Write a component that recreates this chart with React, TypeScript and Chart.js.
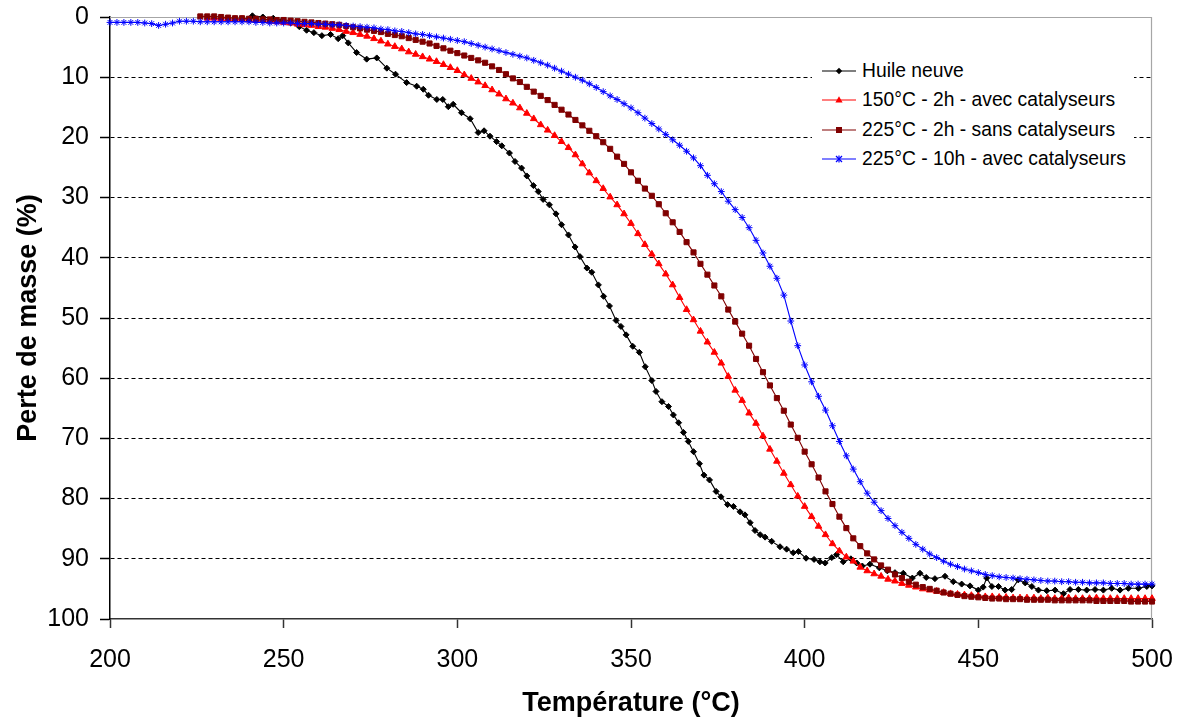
import React, { useEffect, useRef } from "react";
import { Chart, registerables } from "chart.js";

Chart.register(...registerables);

// Shared 2 °C temperature grid for the three treated oils
const gridTemps: number[] = [
  200, 202, 204, 206, 208, 210, 212, 214, 216, 218,
  220, 222, 224, 226, 228, 230, 232, 234, 236, 238,
  240, 242, 244, 246, 248, 250, 252, 254, 256, 258,
  260, 262, 264, 266, 268, 270, 272, 274, 276, 278,
  280, 282, 284, 286, 288, 290, 292, 294, 296, 298,
  300, 302, 304, 306, 308, 310, 312, 314, 316, 318,
  320, 322, 324, 326, 328, 330, 332, 334, 336, 338,
  340, 342, 344, 346, 348, 350, 352, 354, 356, 358,
  360, 362, 364, 366, 368, 370, 372, 374, 376, 378,
  380, 382, 384, 386, 388, 390, 392, 394, 396, 398,
  400, 402, 404, 406, 408, 410, 412, 414, 416, 418,
  420, 422, 424, 426, 428, 430, 432, 434, 436, 438,
  440, 442, 444, 446, 448, 450, 452, 454, 456, 458,
  460, 462, 464, 466, 468, 470, 472, 474, 476, 478,
  480, 482, 484, 486, 488, 490, 492, 494, 496, 498,
  500,
];

// Huile neuve (own temperature sampling)
const huileTemps: number[] = [
  241, 244, 247, 249.5, 252, 254.5, 256.6, 258.7, 261, 263.5,
  265.7, 267, 268.6, 271, 273.9, 276.8, 279.7, 282.2, 285.4, 288.3,
  290.2, 291.7, 294.1, 295.8, 297.4, 298.8, 301.2, 303.7, 306, 307.7,
  309.4, 311.3, 312.8, 315, 316.6, 318.5, 320, 321.9, 323.3, 324.7,
  326.5, 328.4, 330, 332, 333.9, 335.3, 337.3, 338.7, 340.6, 342.1,
  343.8, 345.7, 347.1, 348.6, 350.5, 352.4, 354.1, 356, 357.2, 358.9,
  360.8, 362.2, 363.7, 365.1, 366.5, 368, 369.7, 371, 372.6, 374.5,
  375.9, 377.8, 379.5, 381.4, 382.8, 384.3, 385.7, 387.2, 388.6, 390.5,
  392.9, 394.8, 396.7, 398.2, 400.4, 402.7, 404.4, 405.9, 407.8, 409.2,
  411.1, 413.3, 415, 416.6, 418.8, 421.5, 423.8, 426, 428.4, 431,
  433.2, 435, 437.5, 440.4, 442.8, 445.2, 447.6, 450, 451.4, 452.4,
  453.9, 455.8, 457.7, 459.6, 461.5, 463.5, 465.4, 467.3, 469.7, 472.1,
  474.5, 476.4, 478.8, 481.2, 483.6, 486, 488.4, 490.8, 493.2, 496.1,
  498.5, 500,
];
const huileValues: number[] = [
  -0.2, 0.0, 0.2, 0.6, 1.0, 1.6, 2.2, 2.6, 3.1, 2.9,
  3.6, 3.1, 4.3, 5.9, 7.0, 6.8, 8.5, 9.5, 10.9, 11.5,
  12.0, 13.0, 13.7, 13.7, 14.9, 14.5, 15.9, 16.9, 19.2, 18.9,
  19.8, 20.7, 21.4, 22.6, 24.0, 25.1, 26.4, 28.0, 29.0, 30.3,
  31.2, 32.7, 34.5, 36.2, 38.2, 39.8, 41.7, 42.4, 44.5, 46.4,
  48.0, 50.4, 51.4, 52.8, 54.7, 55.7, 58.1, 60.4, 62.2, 63.9,
  64.7, 66.1, 67.4, 69.0, 70.5, 72.2, 74.2, 76.1, 76.9, 78.8,
  79.7, 81.0, 81.3, 82.2, 82.7, 84.0, 85.3, 86.0, 86.4, 87.1,
  88.0, 88.4, 89.0, 88.8, 89.9, 90.1, 90.5, 90.7, 89.8, 89.3,
  90.5, 90.0, 90.7, 91.2, 90.9, 91.5, 92.0, 92.3, 92.4, 93.2,
  92.4, 93.1, 93.3, 92.9, 93.8, 94.2, 94.5, 95.2, 94.7, 93.2,
  94.6, 94.6, 95.2, 95.1, 93.5, 94.0, 94.6, 95.2, 95.3, 95.2,
  95.8, 95.1, 95.1, 95.2, 95.1, 95.2, 94.9, 95.2, 94.9, 94.9,
  94.6, 94.5,
];

// 150°C - 2h - avec catalyseurs (on gridTemps)
const cat150Values: (number | null)[] = [
  null, null, null, null, null, null, null, null, null, null,
  null, null, null, null, 0.2, 0.2, 0.3, 0.3, 0.4, 0.4,
  0.5, 0.5, 0.6, 0.7, 0.8, 0.9, 1.0, 1.2, 1.3, 1.4,
  1.6, 1.7, 1.9, 2.1, 2.4, 2.6, 2.9, 3.2, 3.6, 4.0,
  4.5, 4.9, 5.3, 5.8, 6.2, 6.6, 7.0, 7.4, 7.9, 8.4,
  8.9, 9.6, 10.2, 10.8, 11.4, 12.1, 12.8, 13.6, 14.3, 15.1,
  16.0, 16.9, 17.9, 18.8, 19.7, 20.7, 21.7, 22.9, 24.4, 25.9,
  27.2, 28.5, 29.9, 31.2, 32.7, 34.3, 36.0, 37.8, 39.4, 41.0,
  42.7, 44.5, 46.6, 48.6, 50.3, 52.2, 54.0, 55.7, 57.5, 59.7,
  62.0, 63.7, 65.8, 67.5, 69.6, 71.8, 73.8, 75.8, 77.7, 79.6,
  81.3, 83.0, 84.6, 86.0, 87.5, 88.7, 89.7, 90.4, 91.4, 92.0,
  92.5, 92.9, 93.4, 93.7, 94.1, 94.4, 94.7, 95.0, 95.2, 95.4,
  95.6, 95.8, 95.9, 96.0, 96.1, 96.2, 96.3, 96.3, 96.4, 96.4,
  96.5, 96.5, 96.5, 96.5, 96.6, 96.5, 96.6, 96.6, 96.5, 96.6,
  96.6, 96.6, 96.5, 96.6, 96.6, 96.6, 96.6, 96.6, 96.6, 96.6,
  96.6,
];

// 225°C - 2h - sans catalyseurs (on gridTemps)
const sans225Values: (number | null)[] = [
  null, null, null, null, null, null, null, null, null, null,
  null, null, null, -0.1, -0.1, -0.1, 0.0, 0.1, 0.2, 0.2,
  0.3, 0.3, 0.4, 0.4, 0.5, 0.5, 0.6, 0.7, 0.8, 0.9,
  1.0, 1.1, 1.2, 1.3, 1.5, 1.7, 1.9, 2.1, 2.3, 2.5,
  2.8, 3.0, 3.2, 3.5, 3.8, 4.1, 4.4, 4.8, 5.2, 5.6,
  6.0, 6.4, 6.8, 7.2, 7.6, 8.2, 8.8, 9.5, 10.2, 10.8,
  11.6, 12.4, 13.1, 13.8, 14.6, 15.4, 16.2, 17.1, 18.0, 18.9,
  19.8, 20.8, 21.9, 23.2, 24.4, 25.8, 27.2, 28.5, 29.7, 31.1,
  32.6, 34.1, 35.7, 37.4, 39.1, 41.0, 42.8, 44.6, 46.4, 48.6,
  50.6, 52.6, 54.6, 56.8, 59.0, 61.2, 63.3, 65.4, 67.7, 69.9,
  72.2, 74.3, 76.5, 78.8, 80.9, 83.0, 84.9, 86.6, 87.9, 89.1,
  90.1, 91.1, 91.8, 92.6, 93.2, 93.8, 94.3, 94.7, 95.0, 95.3,
  95.6, 95.8, 96.0, 96.2, 96.3, 96.4, 96.5, 96.6, 96.6, 96.7,
  96.7, 96.7, 96.8, 96.8, 96.8, 96.8, 96.9, 96.9, 96.9, 96.9,
  96.9, 96.9, 97.0, 97.0, 97.0, 97.0, 97.0, 97.1, 97.1, 97.1,
  97.1,
];

// 225°C - 10h - avec catalyseurs (on gridTemps)
const cat225Values: (number | null)[] = [
  0.9, 0.9, 0.9, 0.9, 0.9, 1.0, 1.1, 1.4, 1.2, 1.0,
  0.7, 0.7, 0.7, 0.8, 0.8, 0.8, 0.8, 0.8, 0.8, 0.8,
  0.8, 0.9, 0.9, 1.0, 1.0, 1.0, 1.0, 1.1, 1.1, 1.1,
  1.2, 1.2, 1.3, 1.3, 1.4, 1.5, 1.6, 1.7, 1.8, 2.0,
  2.1, 2.3, 2.4, 2.6, 2.8, 2.9, 3.1, 3.3, 3.5, 3.7,
  3.9, 4.1, 4.4, 4.7, 5.0, 5.3, 5.6, 5.9, 6.2, 6.5,
  6.8, 7.2, 7.6, 8.0, 8.5, 9.0, 9.5, 10.0, 10.5, 11.1,
  11.7, 12.4, 13.1, 13.7, 14.4, 15.1, 15.9, 16.8, 17.7, 18.6,
  19.5, 20.4, 21.3, 22.3, 23.4, 24.7, 26.3, 27.7, 29.0, 30.6,
  32.0, 33.3, 35.0, 37.1, 39.2, 41.4, 43.4, 46.2, 50.5, 54.6,
  57.8, 60.6, 63.0, 65.3, 67.9, 70.5, 72.9, 75.1, 77.2, 79.1,
  80.6, 82.0, 83.3, 84.5, 85.6, 86.6, 87.6, 88.4, 89.2, 89.8,
  90.4, 90.9, 91.3, 91.7, 92.0, 92.3, 92.6, 92.8, 93.0, 93.1,
  93.2, 93.3, 93.4, 93.5, 93.6, 93.7, 93.7, 93.8, 93.8, 93.9,
  93.9, 94.0, 94.0, 94.0, 94.1, 94.1, 94.1, 94.2, 94.2, 94.2,
  94.2,
];

const xTickValues = [200, 250, 300, 350, 400, 450, 500];
const yTickValues = [0, 10, 20, 30, 40, 50, 60, 70, 80, 90, 100];

const seriesLabels = [
  "Huile neuve",
  "150°C - 2h - avec catalyseurs",
  "225°C - 2h - sans catalyseurs",
  "225°C - 10h - avec catalyseurs",
];
const seriesColors = ["#000000", "#ff0000", "#800000", "#0000ff"];
const seriesMarkers = ["rectRot", "triangle", "rect", "star"];
const seriesRadius = [3, 3.8, 3.6, 3.4];

const FONT = "'Liberation Sans', Arial, sans-serif";

function zip(ts: number[], vs: (number | null)[]) {
  const out: { x: number; y: number }[] = [];
  ts.forEach((t, i) => {
    const v = vs[i];
    if (v !== null && v !== undefined) out.push({ x: t, y: v });
  });
  return out;
}

const framePlugin = {
  id: "frame",
  beforeDatasetsDraw(chart: any) {
    const { ctx, chartArea } = chart;
    const { left, top, right, bottom } = chartArea;
    ctx.save();
    ctx.strokeStyle = "#a6a6a6";
    ctx.lineWidth = 1.2;
    ctx.beginPath();
    ctx.moveTo(left, top + 0.5);
    ctx.lineTo(right - 0.5, top + 0.5);
    ctx.lineTo(right - 0.5, bottom);
    ctx.stroke();
    ctx.restore();
  },
};

function Marker({ kind, color }: { kind: string; color: string }) {
  const cx = 17;
  const cy = 6;
  let shape: React.ReactNode = null;
  if (kind === "rectRot") {
    shape = <polygon points={`${cx},${cy - 3.2} ${cx + 3.2},${cy} ${cx},${cy + 3.2} ${cx - 3.2},${cy}`} fill={color} />;
  } else if (kind === "triangle") {
    shape = <polygon points={`${cx},${cy - 3.8} ${cx + 3.6},${cy + 2.6} ${cx - 3.6},${cy + 2.6}`} fill={color} />;
  } else if (kind === "rect") {
    shape = <rect x={cx - 3} y={cy - 3} width={6} height={6} fill={color} />;
  } else {
    shape = (
      <g stroke={color} strokeWidth={1.2}>
        <line x1={cx - 3} y1={cy - 3} x2={cx + 3} y2={cy + 3} />
        <line x1={cx - 3} y1={cy + 3} x2={cx + 3} y2={cy - 3} />
        <line x1={cx} y1={cy - 3.5} x2={cx} y2={cy + 3.5} />
      </g>
    );
  }
  return (
    <svg width={34} height={12} style={{ display: "block" }}>
      <line x1={0} y1={cy} x2={34} y2={cy} stroke={color} strokeWidth={1.2} />
      {shape}
    </svg>
  );
}

export default function App() {
  const canvasRef = useRef<HTMLCanvasElement | null>(null);

  useEffect(() => {
    document.body.style.margin = "0";
    const canvas = canvasRef.current;
    if (!canvas) return;

    const seriesData = [
      zip(huileTemps, huileValues),
      zip(gridTemps, cat150Values),
      zip(gridTemps, sans225Values),
      zip(gridTemps, cat225Values),
    ];

    const datasets = seriesData.map((d, i) => ({
      label: seriesLabels[i],
      data: d,
      borderColor: seriesColors[i],
      backgroundColor: seriesColors[i],
      pointBackgroundColor: seriesColors[i],
      pointBorderColor: seriesColors[i],
      pointStyle: seriesMarkers[i],
      pointRadius: seriesRadius[i],
      pointBorderWidth: 1,
      borderWidth: 1.1,
      tension: 0,
      fill: false,
      clip: false,
      order: 3 - i,
    }));

    const chart = new Chart(canvas, {
      type: "line",
      data: { datasets: datasets as any },
      options: {
        responsive: false,
        animation: false,
        devicePixelRatio: 1,
        layout: { padding: { left: 8, top: 17, right: 29, bottom: 0 } },
        plugins: {
          legend: { display: false },
          tooltip: { enabled: false },
        },
        scales: {
          x: {
            type: "linear",
            min: 200,
            max: 500,
            afterBuildTicks: (s: any) => {
              s.ticks = xTickValues.map((v) => ({ value: v }));
            },
            ticks: {
              font: { family: FONT, size: 25 },
              color: "#000",
              padding: 17,
              maxRotation: 0,
              autoSkip: false,
            },
            grid: {
              drawOnChartArea: false,
              drawTicks: true,
              tickLength: 9,
              tickColor: "#333",
              tickWidth: 1.5,
            },
            border: { display: true, color: "#333", width: 1.5 },
            title: {
              display: true,
              text: "Température (°C)",
              font: { family: FONT, size: 27, weight: "bold" },
              color: "#000",
              padding: { top: 0, bottom: 0 },
            },
            afterFit: (s: any) => {
              s.height = 101;
              s.paddingLeft = 0;
              s.paddingRight = 0;
            },
          },
          y: {
            type: "linear",
            reverse: true,
            min: 0,
            max: 100,
            afterBuildTicks: (s: any) => {
              s.ticks = yTickValues.map((v) => ({ value: v }));
            },
            ticks: {
              font: { family: FONT, size: 25 },
              color: "#000",
              padding: 11,
              autoSkip: false,
            },
            grid: {
              color: (c: any) =>
                c.tick && (c.tick.value === 0 || c.tick.value === 100) ? "rgba(0,0,0,0)" : "#000",
              lineWidth: 1,
              drawTicks: true,
              tickLength: 10,
              tickColor: "#000",
              tickWidth: 1.5,
              tickBorderDash: [],
            },
            border: { display: true, color: "#000", width: 1.5, dash: [4, 3] },
            title: {
              display: true,
              text: "Perte de masse (%)",
              font: { family: FONT, size: 27, weight: "bold" },
              color: "#000",
              padding: { top: 4, bottom: 0 },
            },
            afterFit: (s: any) => {
              s.width = 102;
              s.paddingTop = 0;
              s.paddingBottom = 0;
            },
          },
        },
      } as any,
      plugins: [framePlugin],
    });

    return () => chart.destroy();
  }, []);

  const rowCenters = [70.5, 100, 129.5, 158.5];

  return (
    <div style={{ position: "relative", width: 1181, height: 720, background: "#fff" }}>
      <canvas ref={canvasRef} width={1181} height={720} style={{ display: "block" }} />
      <div
        style={{
          position: "absolute",
          left: 812,
          top: 54,
          width: 322,
          height: 122,
          background: "#fff",
        }}
      >
        {seriesLabels.map((lab, i) => (
          <div
            key={lab}
            style={{
              position: "absolute",
              left: 0,
              top: rowCenters[i] - 54 - 12,
              height: 24,
              display: "flex",
              alignItems: "center",
              whiteSpace: "nowrap",
            }}
          >
            <div style={{ marginLeft: 10, width: 34 }}>
              <Marker kind={seriesMarkers[i]} color={seriesColors[i]} />
            </div>
            <span
              style={{
                marginLeft: 6,
                fontFamily: FONT,
                fontSize: 19.3,
                color: "#000",
                lineHeight: "24px",
              }}
            >
              {lab}
            </span>
          </div>
        ))}
      </div>
    </div>
  );
}
